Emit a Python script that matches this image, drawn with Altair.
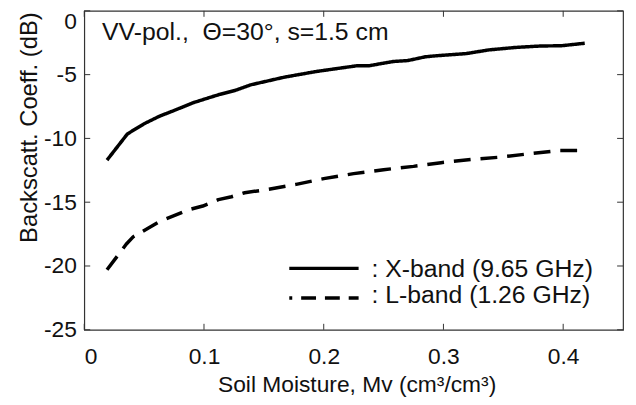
import altair as alt
import pandas as pd

# ---- data ----
moist_x = [0.019, 0.036, 0.050, 0.063, 0.074, 0.091, 0.113, 0.126, 0.139, 0.167,
           0.194, 0.228, 0.238, 0.258, 0.270, 0.285, 0.294, 0.319, 0.338, 0.360,
           0.382, 0.398, 0.418]
back_x = [-11.7, -9.65, -8.85, -8.25, -7.85, -7.2, -6.55, -6.24, -5.8, -5.2,
          -4.75, -4.3, -4.3, -3.97, -3.9, -3.6, -3.52, -3.35, -3.06, -2.87,
          -2.75, -2.74, -2.54]
moist_l = [0.019, 0.035, 0.041, 0.054, 0.063, 0.074, 0.087, 0.099, 0.112, 0.123,
           0.134, 0.153, 0.177, 0.200, 0.225, 0.250, 0.275, 0.298, 0.323, 0.347,
           0.372, 0.396, 0.418]
back_l = [-20.3, -18.3, -17.7, -17.0, -16.5, -16.1, -15.6, -15.3, -14.8, -14.57,
          -14.26, -14.0, -13.6, -13.15, -12.76, -12.45, -12.19, -11.9, -11.65, -11.47,
          -11.2, -10.95, -10.95]
x_ticks = [0, 0.1, 0.2, 0.3, 0.4]
y_ticks = [-25, -20, -15, -10, -5, 0]
band_names = ["X-band (9.65 GHz)", "L-band (1.26 GHz)"]
legend_labels = [": X-band (9.65 GHz)", ": L-band (1.26 GHz)"]
annotation = "VV-pol.,\u00a0 \u0398=30\u00b0, s=1.5 cm"
x_title = "Soil Moisture, Mv (cm\u00b3/cm\u00b3)"
y_title = "Backscatt. Coeff. (dB)"

W, H = 544, 322
FONT = "Liberation Sans"
INK = "#111111"
FRAME = "#333333"

df = pd.DataFrame({
    "mv": moist_x + moist_l,
    "sigma": back_x + back_l,
    "band": [band_names[0]] * len(moist_x) + [band_names[1]] * len(moist_l),
})

xs = alt.Scale(domain=[0, 0.45], nice=False, zero=False)
ys = alt.Scale(domain=[-25, 0], nice=False, zero=False)

x_axis = alt.Axis(
    values=x_ticks, title=x_title,
    labelExpr="datum.value == 0 ? '0' : format(datum.value, '.1f')",
    labelPadding=16, labelFontSize=23,
    titleFontSize=23, titleX=275, titleY=62, titleBaseline="alphabetic",
    titleAlign="center",
)
y_axis = alt.Axis(
    values=y_ticks, title=y_title,
    labelExpr="'' + datum.value",
    labelBaseline={"condition": {"test": "datum.value == 0", "value": "top"},
                   "value": "middle"},
    labelPadding=8, labelFontSize=23,
    titleFontSize=24, titleAngle=-90, titleX=-48, titleY=1,
    titleAlign="right", titleBaseline="alphabetic",
)

lines = alt.Chart(df).mark_line(
    color="black", strokeWidth=3.5, strokeCap="butt", strokeJoin="round"
).encode(
    x=alt.X("mv:Q", scale=xs, axis=x_axis),
    y=alt.Y("sigma:Q", scale=ys, axis=y_axis),
    strokeDash=alt.StrokeDash(
        "band:N",
        scale=alt.Scale(domain=band_names, range=[[1, 0], [17, 10]]),
        legend=None,
    ),
)

# inward ticks on all four sides (matlab box style)
xt = pd.DataFrame({"mv": x_ticks})
yt = pd.DataFrame({"sigma": y_ticks})
TL = 6
tick_style = dict(color=FRAME, strokeWidth=1)
bottom_ticks = alt.Chart(xt).mark_rule(**tick_style).encode(
    x=alt.X("mv:Q", scale=xs), y=alt.value(H), y2=alt.value(H - TL))
top_ticks = alt.Chart(xt).mark_rule(**tick_style).encode(
    x=alt.X("mv:Q", scale=xs), y=alt.value(0), y2=alt.value(TL))
left_ticks = alt.Chart(yt).mark_rule(**tick_style).encode(
    y=alt.Y("sigma:Q", scale=ys), x=alt.value(0), x2=alt.value(TL))
right_ticks = alt.Chart(yt).mark_rule(**tick_style).encode(
    y=alt.Y("sigma:Q", scale=ys), x=alt.value(W), x2=alt.value(W - TL))

# annotation
note = alt.Chart(pd.DataFrame({"t": [annotation]})).mark_text(
    font=FONT, fontSize=25, color=INK, align="left", baseline="alphabetic"
).encode(text="t:N", x=alt.value(18), y=alt.value(29))

# hand-drawn legend
leg_solid = alt.Chart(pd.DataFrame({"k": [0]})).mark_rule(
    color="black", strokeWidth=3.5, strokeCap="butt"
).encode(x=alt.value(207), x2=alt.value(277), y=alt.value(260))
leg_dash = alt.Chart(pd.DataFrame({"k": [0]})).mark_rule(
    color="black", strokeWidth=3.5, strokeCap="butt",
    strokeDash=[15, 9], strokeDashOffset=12
).encode(x=alt.value(207), x2=alt.value(277), y=alt.value(290))
leg_t1 = alt.Chart(pd.DataFrame({"t": [legend_labels[0]]})).mark_text(
    font=FONT, fontSize=25, color=INK, align="left", baseline="alphabetic"
).encode(text="t:N", x=alt.value(290), y=alt.value(269))
leg_t2 = alt.Chart(pd.DataFrame({"t": [legend_labels[1]]})).mark_text(
    font=FONT, fontSize=25, color=INK, align="left", baseline="alphabetic"
).encode(text="t:N", x=alt.value(290), y=alt.value(295))

chart = alt.layer(
    lines, bottom_ticks, top_ticks, left_ticks, right_ticks,
    note, leg_solid, leg_dash, leg_t1, leg_t2,
).properties(
    width=W, height=H,
    autosize=alt.AutoSizeParams(type="none"),
    padding={"left": 77, "top": 1, "right": 5, "bottom": 66},
    background="white",
).configure_view(
    stroke=FRAME, strokeWidth=1.2
).configure_axis(
    domain=False, ticks=False, grid=False,
    labelFont=FONT, labelColor=INK, titleFont=FONT, titleColor=INK,
    titleFontWeight="normal",
)

chart.save("out.html", embed_options={"renderer": "svg", "actions": False})
